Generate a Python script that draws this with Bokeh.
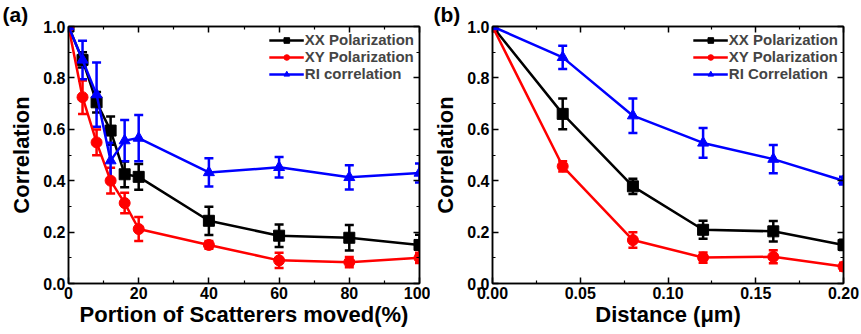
from bokeh.plotting import figure
from bokeh.layouts import row
from bokeh.models import (Range1d, LinearAxis, Whisker, TeeHead, ColumnDataSource,
                          NumeralTickFormatter, FixedTicker, CustomLabelingPolicy)
from bokeh.embed import file_html
from bokeh.resources import INLINE

# ---- data panel (a)
a_x = [0, 4, 8, 12, 16, 20, 40, 60, 80, 100]
a_xx = [1.0, 0.87, 0.705, 0.595, 0.425, 0.415, 0.244, 0.186, 0.178, 0.15]
a_xx_err = [0.0, 0.03, 0.04, 0.055, 0.05, 0.05, 0.055, 0.044, 0.05, 0.04]
a_xy = [1.0, 0.725, 0.549, 0.40, 0.313, 0.212, 0.15, 0.09, 0.083, 0.10]
a_xy_err = [0.0, 0.065, 0.05, 0.05, 0.04, 0.047, 0.015, 0.03, 0.02, 0.02]
a_ri = [1.0, 0.87, 0.735, 0.478, 0.556, 0.566, 0.432, 0.452, 0.413, 0.43]
a_ri_err = [0.0, 0.075, 0.125, 0.07, 0.08, 0.09, 0.055, 0.04, 0.047, 0.037]
a_labels = ["XX Polarization", "XY Polarization", "RI correlation"]

# ---- data panel (b)
b_x = [0.0, 0.04, 0.08, 0.12, 0.16, 0.20]
b_xx = [1.0, 0.66, 0.378, 0.209, 0.203, 0.15]
b_xx_err = [0.0, 0.06, 0.03, 0.035, 0.04, 0.02]
b_xy = [1.0, 0.456, 0.169, 0.101, 0.104, 0.066]
b_xy_err = [0.0, 0.02, 0.03, 0.02, 0.025, 0.015]
b_ri = [1.0, 0.88, 0.653, 0.547, 0.484, 0.40]
b_ri_err = [0.0, 0.045, 0.067, 0.058, 0.055, 0.015]
b_labels = ["XX Polarization", "XY Polarization", "RI Correlation"]

y_ticks = [0, 0.2, 0.4, 0.6, 0.8, 1.0]
y_minor = [0.1, 0.3, 0.5, 0.7, 0.9]

COLORS = ["#000000", "#FF0000", "#0000FF"]
MARKERS = ["square", "circle", "triangle"]
FONT = "Liberation Sans"

NO_LABELS = "for (const i of indices) { indices.unset(i) }\nreturn indices"


def style_axis(ax, show_labels=True):
    ax.axis_line_width = 1.5
    ax.axis_line_color = "black"
    ax.major_tick_in = 6
    ax.major_tick_out = 0
    ax.minor_tick_in = 3
    ax.minor_tick_out = 0
    ax.major_tick_line_width = 1.5
    ax.minor_tick_line_width = 1.2
    ax.major_label_text_font = FONT
    ax.major_label_text_font_style = "bold"
    ax.major_label_text_color = "black"
    if show_labels:
        ax.major_label_text_font_size = "16px"
        ax.major_label_standoff = 3
    else:
        ax.major_label_text_font_size = "0px"
        ax.major_label_policy = CustomLabelingPolicy(code=NO_LABELS)
        ax.major_label_standoff = 0
    ax.axis_label_text_font = FONT
    ax.axis_label_text_font_style = "bold"
    ax.axis_label_text_font_size = "22px"
    ax.axis_label_text_color = "black"


def make_panel(xs, series, errs, labels, xrange, xfmt, xlabel, tag, xticks, width, bl, br):
    p = figure(width=width, height=334, output_backend="svg", toolbar_location=None,
               x_range=Range1d(*xrange), y_range=Range1d(0, 1.0),
               min_border_left=bl, min_border_right=br, min_border_top=26, min_border_bottom=51)
    p.xgrid.visible = False
    p.ygrid.visible = False
    p.outline_line_color = "black"
    p.outline_line_width = 1.5
    p.background_fill_color = "white"

    p.title.text = tag
    p.title.align = "left"
    p.title.offset = -(bl - 2)
    p.title.standoff = 1
    p.title.text_font = FONT
    p.title.text_font_style = "bold"
    p.title.text_font_size = "21px"
    p.title.text_color = "black"

    p.xaxis.ticker = FixedTicker(ticks=xticks[0], minor_ticks=xticks[1])
    p.yaxis.ticker = FixedTicker(ticks=y_ticks, minor_ticks=y_minor)
    p.xaxis.formatter = NumeralTickFormatter(format=xfmt)
    p.yaxis.formatter = NumeralTickFormatter(format="0.0")
    p.xaxis.axis_label = xlabel
    p.yaxis.axis_label = "Correlation"
    style_axis(p.xaxis[0])
    style_axis(p.yaxis[0])
    p.xaxis.axis_label_standoff = 0
    p.yaxis.axis_label_standoff = 6

    top = LinearAxis(ticker=FixedTicker(ticks=xticks[0], minor_ticks=xticks[1]))
    style_axis(top, show_labels=False)
    p.add_layout(top, "above")
    right = LinearAxis(ticker=FixedTicker(ticks=y_ticks, minor_ticks=y_minor))
    style_axis(right, show_labels=False)
    p.add_layout(right, "right")

    for ys, es, lab, col, mk in zip(series, errs, labels, COLORS, MARKERS):
        src = ColumnDataSource(dict(x=xs, y=ys,
                                    upper=[y + e for y, e in zip(ys, es)],
                                    lower=[y - e for y, e in zip(ys, es)]))
        p.line("x", "y", source=src, line_color=col, line_width=2.5, legend_label=lab)
        w = Whisker(source=src, base="x", upper="upper", lower="lower",
                    line_color=col, line_width=2.5,
                    upper_head=TeeHead(size=9, line_color=col, line_width=2.5),
                    lower_head=TeeHead(size=9, line_color=col, line_width=2.5))
        p.add_layout(w)
        p.scatter("x", "y", source=src, marker=mk, size=11, fill_color=col, line_color=col,
                  legend_label=lab)

    lg = p.legend[0]
    lg.location = "top_right"
    lg.border_line_color = None
    lg.background_fill_alpha = 0
    lg.label_text_font = FONT
    lg.label_text_font_style = "bold"
    lg.label_text_font_size = "15px"
    lg.label_height = 17
    lg.glyph_width = 35
    lg.glyph_height = 14
    lg.spacing = 0
    lg.label_standoff = 1
    lg.margin = 5
    lg.padding = 2
    return p


pa = make_panel(a_x, [a_xx, a_xy, a_ri], [a_xx_err, a_xy_err, a_ri_err], a_labels,
                (0, 100), "0", "Portion of Scatterers moved(%)", "(a)",
                ([0, 20, 40, 60, 80, 100], [10, 30, 50, 70, 90]), 430, 68, 11)
pb = make_panel(b_x, [b_xx, b_xy, b_ri], [b_xx_err, b_xy_err, b_ri_err], b_labels,
                (0, 0.2), "0.00", "Distance (\u03bcm)", "(b)",
                ([0, 0.05, 0.10, 0.15, 0.20], [0.025, 0.075, 0.125, 0.175]), 431, 61, 18)

layout = row(pa, pb)
open("out.html", "w").write(file_html(layout, INLINE))
